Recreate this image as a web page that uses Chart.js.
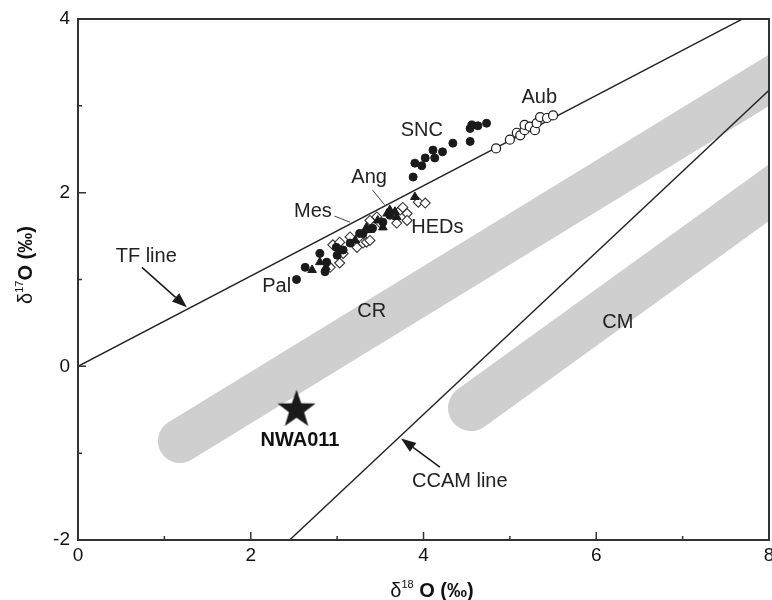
<!DOCTYPE html>
<html>
<head>
<meta charset="utf-8">
<script src="https://cdn.jsdelivr.net/npm/chart.js@4.4.1/dist/chart.umd.min.js"></script>
<style>
body { margin: 0; background: #fff; }
</style>
</head>
<body>
<canvas id="chart" width="772" height="600"></canvas>
<script>
// values (delta18O, delta17O in permil)
const sncPoints = [[3.88, 2.18], [3.90, 2.34], [3.98, 2.31], [4.02, 2.40], [4.11, 2.49], [4.13, 2.40],
    [4.22, 2.47], [4.34, 2.57], [4.54, 2.59], [4.54, 2.74], [4.56, 2.78], [4.63, 2.77], [4.73, 2.80]];
const aubPoints = [[4.84, 2.51], [5.00, 2.61], [5.08, 2.69], [5.12, 2.66], [5.17, 2.72], [5.17, 2.78],
    [5.23, 2.76], [5.29, 2.72], [5.31, 2.80], [5.35, 2.87], [5.43, 2.86], [5.50, 2.89]];
const palMesPoints = [[2.53, 1.00], [2.63, 1.14], [2.80, 1.30], [2.88, 1.20], [2.86, 1.09], [3.00, 1.28],
    [3.07, 1.34], [3.15, 1.42], [3.26, 1.53], [3.41, 1.59], [3.53, 1.66], [3.61, 1.74], [3.30, 1.53], [2.99, 1.37]];
const angTriangles = [[2.80, 1.20], [2.87, 1.14], [3.03, 1.34], [3.21, 1.45], [3.34, 1.60], [3.38, 1.57],
    [3.53, 1.60], [3.58, 1.76], [3.61, 1.80], [3.67, 1.78], [3.69, 1.72], [3.90, 1.95], [3.47, 1.68], [2.71, 1.11]];
const hedDiamonds = [[2.92, 1.14], [2.95, 1.40], [3.03, 1.19], [3.03, 1.43], [3.07, 1.30], [3.15, 1.49],
    [3.23, 1.37], [3.26, 1.49], [3.30, 1.42], [3.34, 1.43], [3.38, 1.45], [3.38, 1.68], [3.46, 1.72],
    [3.50, 1.65], [3.69, 1.65], [3.73, 1.80], [3.76, 1.83], [3.81, 1.76], [3.81, 1.68], [3.94, 1.89], [4.02, 1.88]];
const nwa011 = [[2.53, -0.50]];
const tfLine = [[0, 0], [8, 4.16]];
const ccamLine = [[2.45, -2], [8, 3.18]];
const crBand = [[1.18, -0.86], [8.5, 3.60]];
const cmBand = [[4.55, -0.48], [8.5, 2.36]];
const xTicks = [0, 2, 4, 6, 8];
const yTicks = [-2, 0, 2, 4];

const FONT = '"Liberation Sans", Arial, sans-serif';
const INK = '#1a1a1a';

function toXY(arr) {
    return arr.map(p => ({ x: p[0], y: p[1] }));
}

// filled star used as point style for NWA011
function makeStar(R) {
    const c = document.createElement('canvas');
    c.width = c.height = R * 2 + 4;
    const g = c.getContext('2d');
    const cx = c.width / 2, cy = c.height / 2;
    g.beginPath();
    for (let i = 0; i < 10; i++) {
        const r = i % 2 === 0 ? R : R * 0.4;
        const a = -Math.PI / 2 + i * Math.PI / 5;
        g.lineTo(cx + r * Math.cos(a), cy + r * Math.sin(a));
    }
    g.closePath();
    g.fillStyle = INK;
    g.fill();
    return c;
}

// text labels and arrows, placed in data units
const notes = [
    { text: 'Aub', x: 5.34, y: 3.10 },
    { text: 'SNC', x: 3.98, y: 2.72 },
    { text: 'Ang', x: 3.37, y: 2.18 },
    { text: 'Mes', x: 2.72, y: 1.78 },
    { text: 'HEDs', x: 4.16, y: 1.60 },
    { text: 'Pal', x: 2.30, y: 0.92 },
    { text: 'TF line', x: 0.79, y: 1.27 },
    { text: 'CR', x: 3.40, y: 0.63 },
    { text: 'CM', x: 6.25, y: 0.51 },
    { text: 'NWA011', x: 2.57, y: -0.85, bold: true },
    { text: 'CCAM line', x: 4.42, y: -1.33 }
];
const leaders = [
    { from: [3.41, 2.03], to: [3.55, 1.86] },
    { from: [2.97, 1.73], to: [3.15, 1.66] }
];
const arrows = [
    { from: [0.74, 1.14], to: [1.26, 0.68] },
    { from: [4.19, -1.16], to: [3.74, -0.83] }
];

function drawRich(ctx, parts, cx, baseY) {
    let total = 0;
    parts.forEach(p => { ctx.font = p.font; p.w = ctx.measureText(p.text).width; total += p.w; });
    let x = cx - total / 2;
    parts.forEach(p => {
        ctx.font = p.font;
        ctx.fillText(p.text, x, baseY + (p.dy || 0));
        x += p.w;
    });
}

const decor = {
    id: 'decor',
    afterDatasetsDraw(chart) {
        const ctx = chart.ctx;
        const a = chart.chartArea;
        const sx = chart.scales.x, sy = chart.scales.y;
        const px = v => sx.getPixelForValue(v);
        const py = v => sy.getPixelForValue(v);
        ctx.save();

        // frame
        ctx.strokeStyle = '#333';
        ctx.lineWidth = 2;
        ctx.strokeRect(a.left, a.top, a.right - a.left, a.bottom - a.top);

        // inward ticks
        ctx.lineWidth = 1.5;
        ctx.beginPath();
        for (let v = 0; v <= 8; v++) {
            const len = v % 2 === 0 ? 8 : 4;
            ctx.moveTo(px(v), a.bottom);
            ctx.lineTo(px(v), a.bottom - len);
        }
        for (let v = -2; v <= 4; v++) {
            const len = v % 2 === 0 ? 8 : 4;
            ctx.moveTo(a.left, py(v));
            ctx.lineTo(a.left + len, py(v));
        }
        ctx.stroke();

        // leader lines
        ctx.strokeStyle = '#444';
        ctx.lineWidth = 1;
        leaders.forEach(l => {
            ctx.beginPath();
            ctx.moveTo(px(l.from[0]), py(l.from[1]));
            ctx.lineTo(px(l.to[0]), py(l.to[1]));
            ctx.stroke();
        });

        // arrows
        ctx.strokeStyle = INK;
        ctx.fillStyle = INK;
        ctx.lineWidth = 1.5;
        arrows.forEach(ar => {
            const x1 = px(ar.from[0]), y1 = py(ar.from[1]);
            const x2 = px(ar.to[0]), y2 = py(ar.to[1]);
            const ang = Math.atan2(y2 - y1, x2 - x1);
            const hl = 15, hw = 5.5;
            ctx.beginPath();
            ctx.moveTo(x1, y1);
            ctx.lineTo(x2 - hl * Math.cos(ang), y2 - hl * Math.sin(ang));
            ctx.stroke();
            ctx.beginPath();
            ctx.moveTo(x2, y2);
            ctx.lineTo(x2 - hl * Math.cos(ang) + hw * Math.sin(ang), y2 - hl * Math.sin(ang) - hw * Math.cos(ang));
            ctx.lineTo(x2 - hl * Math.cos(ang) - hw * Math.sin(ang), y2 - hl * Math.sin(ang) + hw * Math.cos(ang));
            ctx.closePath();
            ctx.fill();
        });

        // labels
        ctx.textAlign = 'center';
        ctx.textBaseline = 'middle';
        notes.forEach(n => {
            ctx.font = (n.bold ? 'bold ' : '') + '20px ' + FONT;
            ctx.fillStyle = n.bold ? '#111' : '#222';
            ctx.fillText(n.text, px(n.x), py(n.y));
        });

        // axis titles
        ctx.textAlign = 'left';
        ctx.textBaseline = 'alphabetic';
        ctx.fillStyle = '#111';
        drawRich(ctx, [
            { text: 'δ', font: '20px ' + FONT },
            { text: '18', font: '11px ' + FONT, dy: -9 },
            { text: ' O (‰)', font: 'bold 20px ' + FONT }
        ], 432, 597);
        ctx.translate(32, 265);
        ctx.rotate(-Math.PI / 2);
        drawRich(ctx, [
            { text: 'δ', font: '20px ' + FONT },
            { text: '17', font: '11px ' + FONT, dy: -9 },
            { text: 'O (‰)', font: 'bold 20px ' + FONT }
        ], 0, 0);
        ctx.restore();
    }
};

const ctx = document.getElementById('chart').getContext('2d');
const chart = new Chart(ctx, {
    type: 'scatter',
    data: {
        datasets: [
            {
                data: toXY(nwa011),
                pointStyle: makeStar(20),
                pointRadius: 20,
                order: 0
            },
            {
                data: toXY(sncPoints),
                pointStyle: 'circle',
                pointRadius: 4,
                backgroundColor: INK,
                borderColor: INK,
                order: 1
            },
            {
                data: toXY(aubPoints),
                pointStyle: 'circle',
                pointRadius: 4.5,
                backgroundColor: '#fff',
                borderColor: INK,
                borderWidth: 1.2,
                order: 1
            },
            {
                data: toXY(hedDiamonds),
                pointStyle: 'rectRot',
                pointRadius: 5,
                backgroundColor: '#fff',
                borderColor: '#333',
                borderWidth: 1.1,
                order: 3
            },
            {
                data: toXY(palMesPoints),
                pointStyle: 'circle',
                pointRadius: 4,
                backgroundColor: INK,
                borderColor: INK,
                order: 2
            },
            {
                data: toXY(angTriangles),
                pointStyle: 'triangle',
                pointRadius: 5,
                backgroundColor: INK,
                borderColor: INK,
                order: 2
            },
            {
                data: toXY(tfLine),
                showLine: true,
                pointRadius: 0,
                borderColor: '#222',
                borderWidth: 1.4,
                clip: 0,
                order: 5
            },
            {
                data: toXY(ccamLine),
                showLine: true,
                pointRadius: 0,
                borderColor: '#222',
                borderWidth: 1.4,
                clip: 0,
                order: 5
            },
            {
                data: toXY(crBand),
                showLine: true,
                pointRadius: 0,
                borderColor: '#cfcfcf',
                borderWidth: 44,
                borderCapStyle: 'round',
                clip: 0,
                order: 10
            },
            {
                data: toXY(cmBand),
                showLine: true,
                pointRadius: 0,
                borderColor: '#cfcfcf',
                borderWidth: 46,
                borderCapStyle: 'round',
                clip: 0,
                order: 10
            }
        ]
    },
    options: {
        responsive: false,
        animation: false,
        layout: { autoPadding: false, padding: { top: 19, right: 3, left: 0, bottom: 0 } },
        plugins: {
            legend: { display: false },
            tooltip: { enabled: false }
        },
        scales: {
            x: {
                type: 'linear',
                min: 0,
                max: 8,
                grid: { display: false, drawTicks: false },
                border: { display: false },
                afterFit: s => { s.height = 60; s.paddingLeft = 0; s.paddingRight = 0; },
                afterBuildTicks: s => { s.ticks = xTicks.map(v => ({ value: v })); },
                ticks: {
                    padding: 4,
                    color: '#111',
                    font: { family: FONT, size: 19 }
                }
            },
            y: {
                type: 'linear',
                min: -2,
                max: 4,
                grid: { display: false, drawTicks: false },
                border: { display: false },
                afterFit: s => { s.width = 78; s.paddingTop = 0; s.paddingBottom = 0; },
                afterBuildTicks: s => { s.ticks = yTicks.map(v => ({ value: v })); },
                ticks: {
                    padding: 8,
                    color: '#111',
                    font: { family: FONT, size: 19 }
                }
            }
        }
    },
    plugins: [decor]
});
</script>
</body>
</html>
